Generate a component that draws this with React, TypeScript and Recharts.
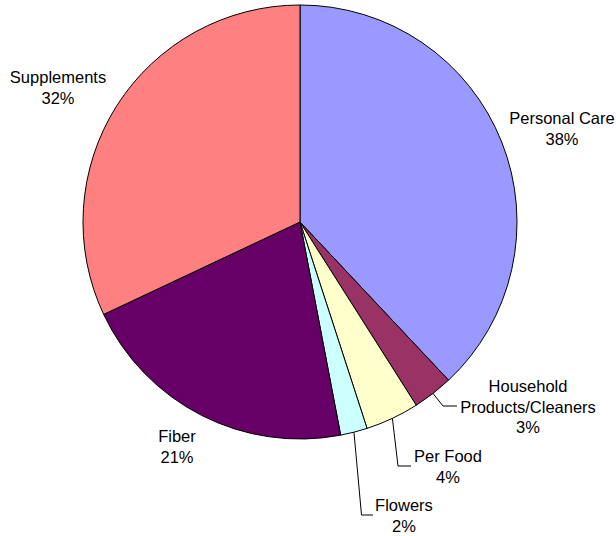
import { PieChart, Pie, Cell } from 'recharts';

const categories = [
  'Personal Care',
  'Household\nProducts/Cleaners',
  'Per Food',
  'Flowers',
  'Fiber',
  'Supplements',
];
const shares = [38, 3, 4, 2, 21, 32];
const colors = ['#9999FF', '#993366', '#FFFFCC', '#CCFFFF', '#660066', '#FF8080'];

// label text position (first baseline) and leader elbow, relative to pie centre
const labelLayout = [
  { dx: 262, dy: -98, leader: null },
  { dx: 228, dy: 170, leader: [[143, 184], [157, 184]] },
  { dx: 148, dy: 240, leader: [[98, 244], [111, 244]] },
  { dx: 104, dy: 289, leader: [[61.5, 293], [73, 293]] },
  { dx: -123, dy: 220, leader: null },
  { dx: -242, dy: -139, leader: null },
];

const data = categories.map((name, i) => ({ name, value: shares[i] }));

const RAD = Math.PI / 180;

function renderLabel(props: any) {
  const { cx, cy, midAngle, outerRadius, index } = props;
  const layout = labelLayout[index];
  const lines = [...categories[index].split('\n'), `${shares[index]}%`];
  const tx = cx + layout.dx;
  const ty = cy + layout.dy;
  let leader = null;
  if (layout.leader) {
    const sx = cx + outerRadius * Math.cos(-midAngle * RAD);
    const sy = cy + outerRadius * Math.sin(-midAngle * RAD);
    const pts = [[sx, sy], ...layout.leader.map(([x, y]) => [cx + x, cy + y])];
    leader = (
      <polyline
        points={pts.map((p) => p.join(',')).join(' ')}
        fill="none"
        stroke="#000"
        strokeWidth={1}
      />
    );
  }
  return (
    <g key={`label-${index}`}>
      {leader}
      <text
        x={tx}
        y={ty}
        textAnchor="middle"
        fill="#000"
        fontSize={16.5}
        fontFamily="Liberation Sans, Arial, sans-serif"
      >
        {lines.map((line, i) => (
          <tspan key={i} x={tx} dy={i === 0 ? 0 : 20.5}>
            {line}
          </tspan>
        ))}
      </text>
    </g>
  );
}

export default function App() {
  return (
    <div style={{ position: 'absolute', left: 0, top: 0, width: 616, height: 536, background: '#fff' }}>
      <PieChart width={616} height={536} margin={{ top: 0, right: 0, bottom: 0, left: 0 }}>
        <Pie
          data={data}
          dataKey="value"
          nameKey="name"
          cx={300}
          cy={222}
          outerRadius={217}
          startAngle={90}
          endAngle={-270}
          stroke="#000"
          strokeWidth={1}
          label={renderLabel}
          labelLine={false}
          isAnimationActive={false}
        >
          {data.map((d, i) => (
            <Cell key={d.name} fill={colors[i]} />
          ))}
        </Pie>
      </PieChart>
    </div>
  );
}
